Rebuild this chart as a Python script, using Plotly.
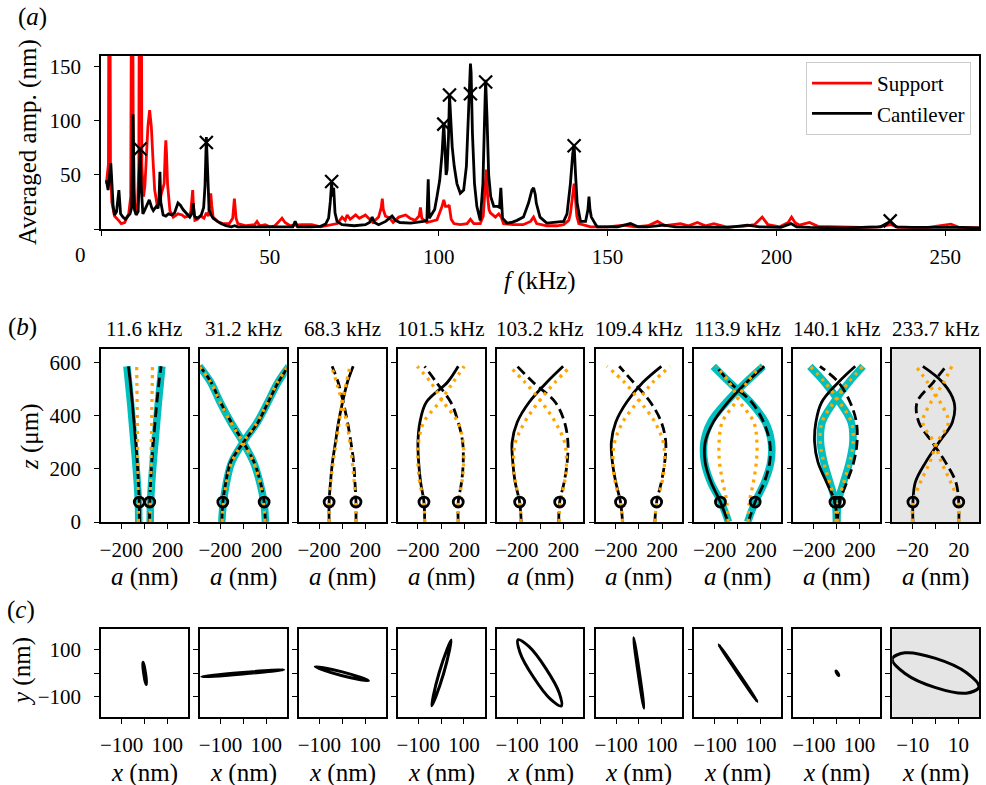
import plotly.graph_objects as go

W, H = 986, 785
FONT = "Liberation Serif"
ORANGE = "#FFA500"
CYAN = "#00BFBF"

# ---------------- (a) averaged amplitude spectra ----------------
support_f = [1.6, 2.2, 2.5, 2.8, 3.2, 3.6, 4.0, 5.2, 6.0, 7.0, 8.2, 8.8, 9.2, 9.6, 10.2, 10.8,
             11.2, 11.5, 11.8, 12.1, 12.6, 13.0, 13.4, 13.9, 14.4, 14.9, 15.4, 15.9, 16.7, 17.4,
             17.9, 18.7, 19.0, 19.2, 19.4, 19.7, 20.4, 21.4, 22.8, 24.0, 24.8, 26.0, 26.6, 27.0,
             27.15, 27.4, 27.8, 28.6, 29.5, 30.5, 31.2, 31.8, 32.3, 32.5, 32.8, 33.2, 34.5, 36.0,
             38.0, 39.0, 39.5, 40.0, 40.5, 43.0, 45.5, 46.2, 47.0, 48.6, 50.0, 51.5, 53.0, 53.6,
             54.5, 56.0, 59.4, 62.4, 65.0, 68.4, 70.0, 71.4, 72.3, 72.9, 73.8, 75.4, 76.5, 78.3,
             79.5, 80.5, 82.2, 83.0, 83.3, 83.6, 84.2, 85.5, 86.5, 88.2, 90.2, 91.5, 93.0, 94.2,
             94.6, 95.0, 96.5, 97.5, 99.5, 101.0, 101.5, 102.0, 102.7, 103.1, 103.7, 104.5, 106.4,
             108.4, 109.4, 110.4, 112.3, 113.2, 113.6, 114.1, 114.5, 114.9, 115.3, 116.8, 117.8,
             118.5, 119.2, 122.0, 125.0, 127.2, 128.1, 129.0, 132.0, 135.0, 137.0, 138.5, 139.0,
             139.6, 140.1, 140.5, 140.9, 141.5, 145.0, 150.0, 154.9, 158.0, 162.0, 164.8, 167.0,
             171.6, 174.0, 176.6, 179.0, 181.5, 185.0, 190.0, 193.5, 195.8, 197.5, 201.0, 203.5,
             204.5, 205.5, 206.8, 209.8, 212.3, 218.0, 225.0, 230.0, 234.0, 236.0, 245.0, 251.7,
             254.0, 260.0]
support_amp = [42, 60, 400, 60, 25, 18, 12, 8, 5, 6, 14, 30, 400, 40, 15, 18,
               60, 400, 400, 60, 30, 40, 64, 95, 110, 95, 64, 36, 21, 25,
               33, 42, 70, 82, 70, 42, 17, 11, 14, 13, 11, 12, 16, 30,
               36, 20, 8, 9, 12, 10, 15, 12, 25, 33, 22, 11, 7, 5,
               5, 10, 28, 10, 5, 3, 4, 7, 3, 4, 2, 3, 8, 10,
               6, 3, 4, 4, 2, 4, 5, 11, 8, 13, 9, 13, 10, 13,
               9, 6, 11, 20, 28, 18, 12, 10, 6, 11, 13, 10, 8, 12,
               20, 10, 6, 7, 8.5, 21, 27, 21, 21, 22, 9, 5, 4,
               5, 9, 5, 5, 12, 28, 55, 30, 18, 15, 11, 14,
               11, 5, 4, 4, 7, 11, 5, 3, 3, 4, 8, 14,
               30, 42, 28, 12, 5, 2, 2, 3.5, 2, 3, 7, 3,
               5, 3, 6, 3, 5, 2, 2.5, 4, 11, 4, 2, 6,
               11, 6, 3.5, 6, 2.5, 2, 1.5, 2, 4, 1.5, 1.5, 4.5,
               1.5, 1]

cantilever_f = [1.6, 2.1, 2.9, 3.6, 4.0, 4.6, 5.3, 5.8, 6.5, 7.2, 8.0, 8.6, 9.1, 9.5, 9.9, 10.4,
                11.0, 11.3, 11.6, 11.9, 12.4, 13.0, 13.6, 14.3, 15.0, 15.5, 16.4, 16.9, 17.2, 17.45,
                17.7, 18.4, 19.2, 20.0, 21.0, 21.8, 22.8, 23.5, 24.3, 25.3, 26.3, 26.9, 27.3, 27.7,
                28.2, 29.0, 29.7, 30.4, 30.8, 31.2, 31.6, 32.0, 32.6, 33.2, 34.5, 35.5, 37.0, 38.6,
                39.6, 40.5, 43.6, 46.0, 50.0, 54.0, 56.8, 57.5, 58.2, 62.0, 65.0, 66.5, 67.4, 67.9,
                68.3, 68.6, 68.9, 69.3, 69.9, 71.4, 75.0, 78.3, 79.5, 80.3, 81.0, 82.2, 84.3, 85.4,
                86.2, 87.2, 88.5, 91.7, 94.0, 95.5, 96.5, 96.9, 97.2, 98.0, 98.8, 99.5, 100.3, 101.0,
                101.5, 101.9, 102.2, 102.5, 102.9, 103.2, 103.6, 104.0, 104.6, 105.4, 106.4, 107.4,
                108.2, 108.8, 109.2, 109.4, 109.6, 110.0, 110.6, 111.3, 112.3, 113.1, 113.6, 113.9,
                114.3, 114.8, 115.4, 116.3, 117.3, 118.0, 118.4, 118.7, 118.9, 120.2, 121.5, 123.2,
                125.1, 126.6, 127.6, 128.1, 128.6, 128.9, 130.0, 132.0, 135.0, 137.0, 138.0, 139.0,
                139.7, 140.1, 140.5, 141.0, 142.0, 143.5, 144.2, 144.5, 144.8, 145.2, 146.5, 147.0,
                150.0, 153.0, 156.8, 159.0, 161.8, 166.7, 170.0, 175.0, 181.5, 186.0, 191.4, 195.0,
                201.3, 204.3, 206.0, 210.0, 220.0, 228.0, 230.9, 233.7, 235.5, 240.0, 245.0, 250.7,
                255.0, 260.0]
cantilever_amp = [45, 36, 61, 21, 13, 16, 36, 14, 11, 9, 12, 14, 20, 106, 18, 13,
                  16, 40, 75, 40, 14, 18, 22, 27, 20, 17, 21, 19, 30, 53,
                  25, 13, 12, 14, 13, 15, 24, 22, 18, 14, 11, 14, 24, 12,
                  10, 11, 13, 20, 40, 85, 40, 18, 13, 10, 7, 5, 3, 2,
                  3, 2, 2, 2, 1.8, 1.5, 2, 7, 2, 2, 2.5, 4.5, 10, 25,
                  43, 30, 38, 15, 7, 4, 3, 4, 6, 11, 6, 4, 7, 10,
                  12, 8, 6, 5.5, 6, 7, 8, 46, 10, 14, 18, 30, 45, 70,
                  98, 73, 50, 55, 85, 124, 95, 76, 58, 42, 33, 36,
                  58, 104, 145, 153, 145, 88, 42, 21, 8, 42, 104, 138,
                  104, 50, 30, 21, 21, 20, 38, 22, 10, 5.5, 6, 8,
                  11, 24, 36, 38, 32, 24, 11, 5.5, 6, 7, 14, 42,
                  70, 78, 52, 24, 7, 7, 18, 30, 18, 11, 4, 2,
                  2, 2, 5, 2, 2, 3.5, 2, 2, 2, 1.5, 3.5, 2,
                  1.5, 5, 2, 1.5, 1, 1.5, 2, 7, 2, 1.5, 1.5, 2,
                  1.5, 1]

# selected cantilever modes (frequency, averaged amplitude)
mode_freqs = [11.6, 31.2, 68.3, 101.5, 103.2, 109.4, 113.9, 140.1, 233.7]
mode_amps = [74, 80, 44, 97, 124, 125, 136, 77, 7.5]

# ---------------- (b) deflection shapes along the cantilever ----------------
z_um = [0, 75, 150, 225, 300, 375, 450, 525, 585]
probe_index = 1  # measurement height, z = 75 um

shape_solid = [
    [-42, -44, -52, -62, -75, -90, -105, -122, -138],
    [-186, -177, -151, -110, 3, 128, 215, 302, 390],
    [-113, -113, -101, -84, -58, -32, 3, 45, 95],
    [-142, -148, -177, -194, -200, -183, -128, 55, 148],
    [-162, -176, -215, -235, -241, -197, -94, 59, 200],
    [-141, -159, -200, -229, -238, -200, -106, 35, 194],
    [-85, -150, -232, -282, -282, -212, -85, 76, 229],
    [0, -15, -88, -162, -191, -180, -130, 15, 160],
    [-19.6, -19.6, -17.5, -8.5, 3, 14.5, 16, 6, -11],
]
shape_dashed = [
    [44, 46, 54, 64, 77, 92, 108, 126, 144],
    [191, 180, 148, 93, 0, -104, -197, -278, -375],
    [119, 119, 110, 99, 75, 46, 9, -35, -87],
    [148, 148, 177, 191, 186, 148, 84, -41, -142],
    [162, 170, 209, 235, 241, 212, 132, -59, -197],
    [138, 153, 194, 223, 232, 194, 100, -47, -170],
    [91, 150, 229, 276, 276, 223, 120, -70, -188],
    [6, 24, 88, 147, 176, 170, 116, 15, -145],
    [20, 20, 17.5, 8.5, -3, -14.5, -16, -2, 9],
]
model_a = [
    [-52, -53, -55, -57, -59, -61, -63, -65, -67],
    [-183, -172, -145, -100, 0, 120, 210, 295, 385],
    [-113, -113, -99, -78, -52, -26, 0, 38, 67],
    [-142, -150, -185, -200, -195, -150, -15, 104, 200],
    [-165, -175, -212, -229, -212, -132, -15, 130, 265],
    [-141, -160, -205, -225, -210, -140, -15, 120, 270],
    [-85, -95, -130, -158, -162, -135, -20, 80, 197],
    [-5, -14, -62, -112, -142, -127, -25, 103, 225],
    [-20, -19.5, -13, -5, 1.5, 11, 4, -7, -17],
]
model_b = [
    [49, 51, 54, 57, 60, 63, 65, 68, 70],
    [188, 175, 142, 88, -5, -108, -200, -282, -380],
    [119, 116, 104, 87, 67, 38, 0, -49, -93],
    [148, 150, 180, 195, 190, 145, 20, -90, -206],
    [165, 175, 212, 229, 212, 132, 15, -130, -265],
    [138, 155, 200, 222, 210, 138, 15, -125, -276],
    [90, 100, 135, 160, 165, 138, 20, -75, -186],
    [5, 14, 62, 112, 142, 127, 25, -103, -228],
    [20, 19.5, 13, 5, -1.5, -11, -4, 7, 14],
]
fit_a = [
    [-49, -52, -62, -75, -90, -105, -120, -137, -151],
    [-186, -172, -145, -100, 0, 120, 212, 300, 395],
    None, None, None, None,
    [-80, -145, -235, -288, -292, -235, -100, 70, 220],
    [-3, -12, -60, -110, -140, -125, -25, 105, 228],
    None,
]
fit_b = [
    [50, 53, 63, 76, 91, 106, 121, 138, 151],
    [191, 178, 142, 88, -3, -108, -200, -282, -380],
    None, None, None, None,
    [85, 150, 232, 285, 290, 238, 110, -72, -212],
    [3, 12, 60, 110, 140, 125, 25, -105, -232],
    None,
]

# ---------------- (c) tip orbits in the x-y plane ----------------
orbit_x = [
    [-6, -1.1, 5, 8.8, 8, 3.1, -3, -6.8],
    [177, 124.2, -2.75, -129.6, -182, -129.2, -2.25, 124.6],
    [115, 82.1, 0.5, -82.7, -118, -85.1, -3.5, 79.7],
    [44, 26.1, -8, -34, -41, -23.1, 11, 37],
    [93, 84.7, 26, -48.9, -96, -87.7, -29, 45.9],
    [22, 17.5, 2.5, -14.3, -23, -18.5, -3.5, 13.3],
    [85, 61.6, 2.65, -57.2, -83, -59.6, -0.65, 59.2],
    [9, 8.4, 4.7, 0, -3, -2.4, 1.3, 6],
    [19, 13.4, 0, -13.4, -19, -13.4, 0, 13.4],
]
orbit_y = [
    [46, 32.3, -1.4, -35.5, -50, -36.3, -2.6, 31.5],
    [14, 11.7, 2, -9.5, -16, -13.7, -4, 7.5],
    [-33, -19.4, 5, 23, 27, 13.4, -11, -29],
    [143, 102.9, 3.2, -98.7, -142, -101.9, -2.2, 99.7],
    [-142, -87.3, 19, 114.6, 143.5, 88.8, -17.5, -113],
    [-152, -107.2, 0.4, 107.8, 152, 107.2, -0.4, -107.8],
    [-123, -86.3, 0.6, 86.9, 122, 85.3, -1.6, -87.9],
    [-11, -7.3, 0, 6.8, 9, 5.3, -2, -8.8],
    [-6.1, -8.7, -6.3, -0.2, 6.1, 8.7, 6.3, 0.2],
]

# axis limits / ticks of the small panels (the last mode is 10x smaller)
shape_lim = [375] * 8 + [37.5]
shape_ticks = [200] * 8 + [20]
orbit_lim = [190] * 8 + [19]
orbit_ticks = [100] * 8 + [10]
z_ticks = [0, 200, 400, 600]


# ---------------- layout helpers ----------------
def dom_x(left, right):
    return [left / W, right / W]


def dom_y(top, bottom):
    return [(H - bottom) / H, (H - top) / H]


def minus(v):
    return ("\u2212" + str(abs(v))) if v < 0 else str(v)


axis_style = dict(showline=True, linecolor="black", linewidth=1.5, mirror=True,
                  ticks="outside", ticklen=5, tickwidth=1.3, tickcolor="black",
                  showgrid=False, zeroline=False, fixedrange=True, automargin=False,
                  tickfont=dict(family=FONT, size=21, color="black"))
xstand = dict(ticklabelstandoff=3)
ystand = dict(ticklabelstandoff=9)

COL_LEFT, COL_STEP, COL_W = 101.0, 98.9, 86.8
B_TOP, B_BOT = 349, 522
C_TOP, C_BOT = 629, 717

fig = go.Figure()
layout = {}
annotations = []
shapes = []


def note(text, px, py, size=25, angle=0):
    annotations.append(dict(text=text, x=px / W, y=1 - py / H, xref="paper", yref="paper",
                            xanchor="center", yanchor="middle", showarrow=False, textangle=angle,
                            font=dict(family=FONT, size=size, color="black")))


# ---- panel (a)
layout["xaxis"] = dict(domain=dom_x(101, 979), range=[0, 260], anchor="y",
                       tickvals=[0, 50, 100, 150, 200, 250],
                       ticktext=["", "50", "100", "150", "200", "250"], **axis_style, **xstand)
layout["yaxis"] = dict(domain=dom_y(56, 229), range=[0, 160], anchor="x",
                       tickvals=[0, 50, 100, 150], ticktext=["", "50", "100", "150"],
                       **axis_style, **ystand)

fig.add_trace(go.Scatter(x=support_f, y=support_amp, mode="lines", name="Support",
                         line=dict(color="#FF0000", width=2.8), xaxis="x", yaxis="y"))
fig.add_trace(go.Scatter(x=cantilever_f, y=cantilever_amp, mode="lines", name="Cantilever",
                         line=dict(color="black", width=2.8), xaxis="x", yaxis="y"))
fig.add_trace(go.Scatter(x=mode_freqs, y=mode_amps, mode="markers", showlegend=False,
                         marker=dict(symbol="x-thin", size=13, line=dict(color="black", width=2.2)),
                         xaxis="x", yaxis="y"))

note("(<i>a</i>)", 32, 17)
note("0", 80, 255, size=21)
note("Averaged amp. (nm)", 28, 142, angle=-90)
note("<i>f</i> (kHz)", 540, 281)

# ---- panels (b) and (c)
for i in range(9):
    left = COL_LEFT + i * COL_STEP
    right = left + COL_W
    cx = (left + right) / 2
    kb, kc = i + 2, i + 11
    st = shape_ticks[i]
    ot = orbit_ticks[i]

    layout[f"xaxis{kb}"] = dict(domain=dom_x(left, right), range=[-shape_lim[i], shape_lim[i]],
                                anchor=f"y{kb}", tickvals=[-st, 0, st],
                                ticktext=[minus(-st), "", str(st)], **axis_style, **xstand)
    layout[f"yaxis{kb}"] = dict(domain=dom_y(B_TOP, B_BOT), range=[0, 650], anchor=f"x{kb}",
                                tickvals=z_ticks, ticktext=[str(v) for v in z_ticks],
                                showticklabels=(i == 0), **axis_style, **ystand)
    layout[f"xaxis{kc}"] = dict(domain=dom_x(left, right), range=[-orbit_lim[i], orbit_lim[i]],
                                anchor=f"y{kc}", tickvals=[-ot, 0, ot],
                                ticktext=[minus(-ot), "", str(ot)], **axis_style, **xstand)
    layout[f"yaxis{kc}"] = dict(domain=dom_y(C_TOP, C_BOT), range=[-orbit_lim[i], orbit_lim[i]],
                                anchor=f"x{kc}", tickvals=[-ot, 0, ot],
                                ticktext=[minus(-ot), "", str(ot)],
                                showticklabels=(i == 0), **axis_style, **ystand)

    if i == 8:
        for k in (kb, kc):
            shapes.append(dict(type="rect", xref=f"x{k} domain", yref=f"y{k} domain",
                               x0=0, x1=1, y0=0, y1=1, fillcolor="#E5E5E5",
                               line=dict(width=0), layer="below"))

    xb, yb = f"x{kb}", f"y{kb}"
    spl = dict(shape="spline", smoothing=1.0)
    for fit in (fit_a[i], fit_b[i]):
        if fit is not None:
            fig.add_trace(go.Scatter(x=fit, y=z_um, mode="lines", showlegend=False,
                                     line=dict(color=CYAN, width=7.5, **spl), xaxis=xb, yaxis=yb))
    fig.add_trace(go.Scatter(x=shape_solid[i], y=z_um, mode="lines", showlegend=False,
                             line=dict(color="black", width=2.8, **spl), xaxis=xb, yaxis=yb))
    fig.add_trace(go.Scatter(x=shape_dashed[i], y=z_um, mode="lines", showlegend=False,
                             line=dict(color="black", width=2.8, dash="10px,5px", **spl),
                             xaxis=xb, yaxis=yb))
    for mod in (model_a[i], model_b[i]):
        fig.add_trace(go.Scatter(x=mod, y=z_um, mode="lines", showlegend=False,
                                 line=dict(color=ORANGE, width=3.3, dash="3px,5px", **spl),
                                 xaxis=xb, yaxis=yb))
    fig.add_trace(go.Scatter(x=[shape_solid[i][probe_index], shape_dashed[i][probe_index]],
                             y=[z_um[probe_index]] * 2, mode="markers", showlegend=False,
                             marker=dict(symbol="circle-open", size=10, color="black",
                                         line=dict(width=2.8)),
                             xaxis=xb, yaxis=yb))

    ox = orbit_x[i] + [orbit_x[i][0]]
    oy = orbit_y[i] + [orbit_y[i][0]]
    fig.add_trace(go.Scatter(x=ox, y=oy, mode="lines", showlegend=False,
                             line=dict(color="black", width=3, shape="spline", smoothing=1.0),
                             xaxis=f"x{kc}", yaxis=f"y{kc}"))

    note(f"{mode_freqs[i]:.1f} kHz", cx, 329, size=21)
    note("<i>a</i> (nm)", cx, 577)
    note("<i>x</i> (nm)", cx, 773)

note("(<i>b</i>)", 22, 327)
note("<i>z</i> (\u03bcm)", 30, 437, angle=-90)
note("(<i>c</i>)", 21, 610)
note("<i>y</i> (nm)", 22, 672, angle=-90)

fig.update_layout(
    width=W, height=H, margin=dict(l=0, r=0, t=0, b=0, pad=0, autoexpand=False),
    paper_bgcolor="white", plot_bgcolor="white",
    font=dict(family=FONT, size=21, color="black"),
    showlegend=True,
    legend=dict(x=971 / W, y=1 - 62 / H, xanchor="right", yanchor="top",
                bgcolor="white", bordercolor="#CCCCCC", borderwidth=1, itemwidth=60,
                font=dict(family=FONT, size=21, color="black"), tracegroupgap=0),
    annotations=annotations, shapes=shapes, **layout)

fig.write_html("out.html")
